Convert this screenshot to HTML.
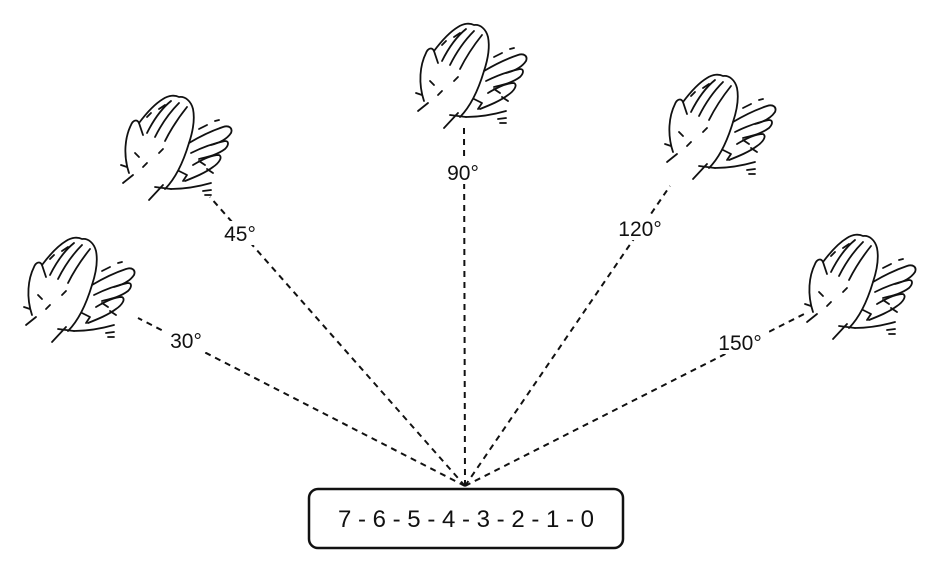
<!DOCTYPE html>
<html><head><meta charset="utf-8"><style>
html,body{margin:0;padding:0;background:#fff;}
svg{display:block;font-family:"Liberation Sans",Arial,sans-serif;}
</style></head><body>
<svg width="928" height="561" viewBox="0 0 928 561" xmlns="http://www.w3.org/2000/svg">
<defs>
<g id="hand" fill="none" stroke="#111" stroke-width="1.8" stroke-linecap="round" stroke-linejoin="round">
  <path d="M10,80 C4,62 6,44 12,32 C14,27 18,26 20,30 L24,42"/>
  <path d="M20,30 C26,22 34,12 44,6 C50,2 56,2 60,4 C66,3 72,8 74,16 C76,26 74,38 70,50 C64,70 56,86 46,96"/>
  <path d="M28,40 C34,28 42,16 52,8"/>
  <path d="M36,44 C42,32 50,20 60,10"/>
  <path d="M46,48 C52,36 60,24 68,14"/>
  <path d="M16,60 L20,64 M24,74 L28,70 M40,60 L44,56"/>
  <path d="M4,90 L14,82 M2,72 L8,74"/>
  <path d="M30,107 L44,92 M36,94 L52,96"/>
  <path d="M70,50 C80,44 92,38 104,34 C110,32 114,35 112,40 C108,46 100,50 92,52"/>
  <path d="M72,60 C84,54 96,50 106,48 C110,48 110,52 106,56 C98,62 88,64 80,66"/>
  <path d="M74,72 C84,66 94,62 100,62 C104,64 100,70 94,74 C86,80 76,84 66,88"/>
  <path d="M52,96 C64,96 78,94 92,90"/>
  <path d="M60,78 L68,82 L64,88 M80,68 L86,72 M88,76 L94,80"/>
  <path d="M80,36 L88,32 M96,28 L100,27 M84,98 L92,97 M86,102 L92,102"/>
  <path d="M40,16 L46,12 M28,24 L32,20"/>
</g>
</defs>

<g stroke="#111" stroke-width="2" stroke-dasharray="6,5" fill="none">
  <line x1="465" y1="486" x2="138" y2="318"/>
  <line x1="465" y1="486" x2="210" y2="197"/>
  <line x1="465" y1="486" x2="464" y2="127"/>
  <line x1="465" y1="486" x2="670" y2="186"/>
  <line x1="465" y1="486" x2="808" y2="312"/>
</g>

<use href="#hand" x="22" y="235"/>
<use href="#hand" x="119" y="93"/>
<use href="#hand" x="414" y="21"/>
<use href="#hand" x="663" y="72"/>
<use href="#hand" x="803" y="232"/>

<g font-size="21" fill="#111" text-anchor="middle">
  <rect x="164" y="328" width="46" height="24" fill="#fff"/>
  <text x="186" y="348">30°</text>
  <rect x="218" y="221" width="46" height="24" fill="#fff"/>
  <text x="240" y="241">45°</text>
  <rect x="441" y="160" width="46" height="24" fill="#fff"/>
  <text x="463" y="180">90°</text>
  <rect x="611" y="216" width="58" height="24" fill="#fff"/>
  <text x="640" y="236">120°</text>
  <rect x="711" y="330" width="58" height="24" fill="#fff"/>
  <text x="740" y="350">150°</text>
</g>

<rect x="309" y="489" width="314" height="59" rx="9" ry="9" fill="#fff" stroke="#111" stroke-width="2.5"/>
<text x="466" y="527" font-size="24" text-anchor="middle" fill="#111">7 - 6 - 5 - 4 - 3 - 2 - 1 - 0</text>
</svg>
</body></html>
